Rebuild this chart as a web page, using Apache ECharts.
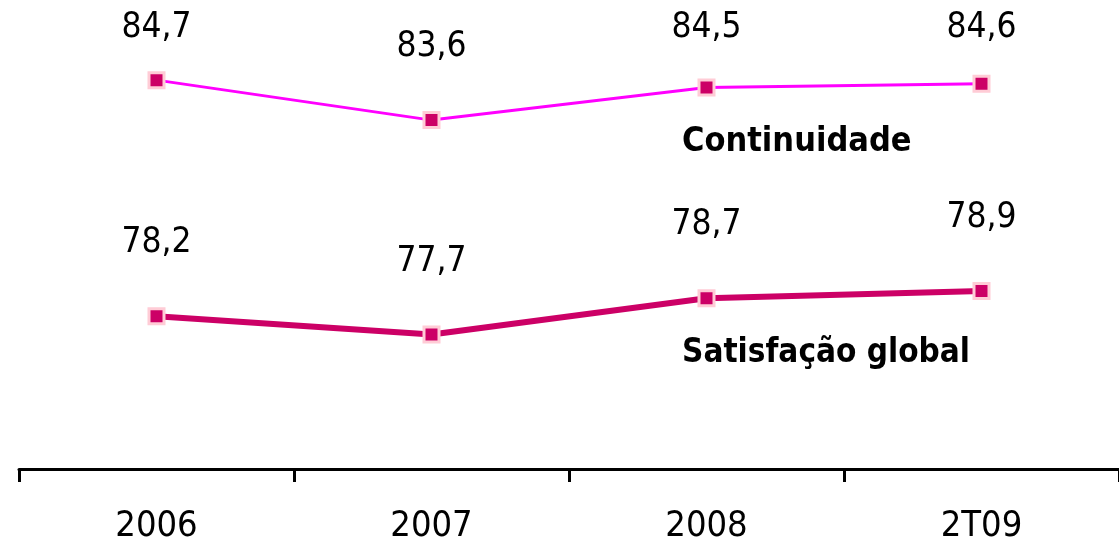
<!DOCTYPE html>
<html><head><meta charset="utf-8">
<script src="https://cdn.jsdelivr.net/npm/echarts@6/dist/echarts.min.js"></script>
<style>html,body{margin:0;padding:0;background:#fff}#c{width:1119px;height:547px}</style>
</head><body><div id="c"></div>
<script>
const categories = ['2006', '2007', '2008', '2T09'];
const continuidade = [84.7, 83.6, 84.5, 84.6];
const satisfacao = [78.2, 77.7, 78.7, 78.9];
const seriesNames = ['Continuidade', 'Satisfação global'];

const FONT = '"DejaVu Sans Condensed", "DejaVu Sans", sans-serif';
const fmt = v => v.toFixed(1).replace('.', ',');

function labelRule(p) {
  const cx = p.rect.x + p.rect.width / 2;
  const cy = p.rect.y + p.rect.height / 2;
  return { x: cx, y: Math.max(cy - 73, 28), align: 'center', verticalAlign: 'middle' };
}

const chart = echarts.init(document.getElementById('c'));
chart.setOption({
  animation: false,
  grid: { left: 19, width: 1101, top: 2, bottom: 78 },
  xAxis: {
    type: 'category', data: categories, boundaryGap: true,
    axisLine: { show: true, lineStyle: { color: '#000', width: 3 } },
    axisTick: { show: true, alignWithLabel: false, interval: 0, length: 13, lineStyle: { color: '#000', width: 3 } },
    axisLabel: { color: '#000', fontSize: 36, fontFamily: FONT, margin: 40 }
  },
  yAxis: { type: 'value', min: 74, max: 86.85, show: false, splitLine: { show: false } },
  series: [
    {
      name: seriesNames[0], type: 'line', data: continuidade,
      lineStyle: { color: '#FF00FF', width: 3 },
      symbol: 'rect', symbolSize: 15,
      itemStyle: { color: '#CC0066', borderColor: '#FFCCD6', borderWidth: 3 },
      label: { show: true, position: 'top', color: '#000', fontSize: 35, fontFamily: FONT, formatter: p => fmt(p.value) },
      labelLayout: labelRule
    },
    {
      name: seriesNames[1], type: 'line', data: satisfacao,
      lineStyle: { color: '#CC0066', width: 6 },
      symbol: 'rect', symbolSize: 15,
      itemStyle: { color: '#CC0066', borderColor: '#FFCCD6', borderWidth: 3 },
      label: { show: true, position: 'top', color: '#000', fontSize: 35, fontFamily: FONT, formatter: p => fmt(p.value) },
      labelLayout: labelRule
    }
  ],
  graphic: [
    { type: 'text', left: 682, top: 125, style: { text: seriesNames[0], font: 'bold 34px ' + FONT, fill: '#000' } },
    { type: 'text', left: 682, top: 337, style: { text: seriesNames[1], font: 'bold 33px ' + FONT, fill: '#000' } }
  ]
});
</script></body></html>
